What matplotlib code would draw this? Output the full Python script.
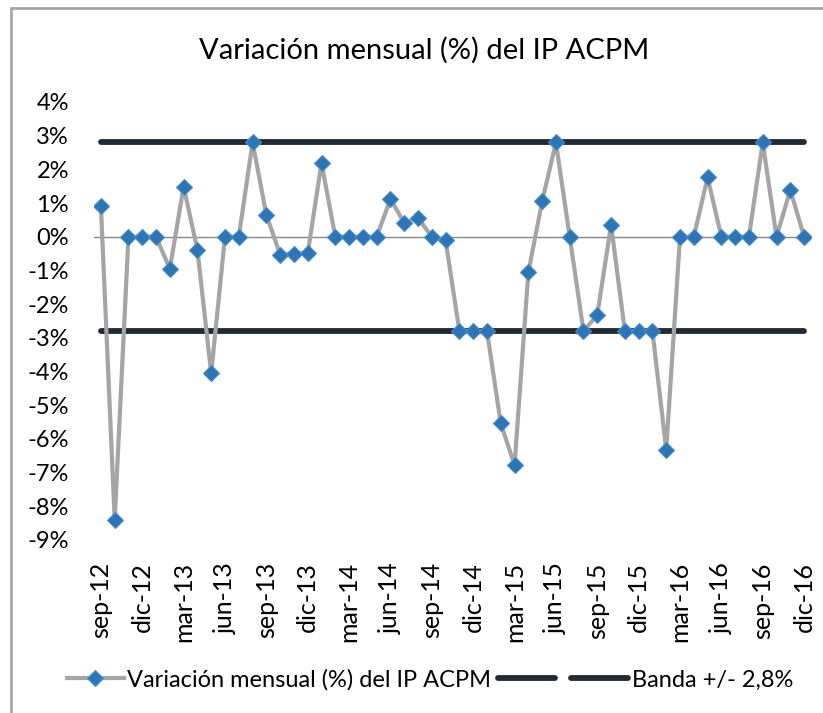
import matplotlib.pyplot as plt
from matplotlib.patches import Rectangle

# datos: variación mensual (%) del IP ACPM, sep-12 a dic-16
meses = ['ene', 'feb', 'mar', 'abr', 'may', 'jun', 'jul', 'ago', 'sep', 'oct', 'nov', 'dic']
fechas = [f"{meses[(8 + i) % 12]}-{12 + (8 + i) // 12}" for i in range(52)]
variacion = [0.92, -8.40, 0.0, 0.0, 0.0, -0.95, 1.49, -0.39, -4.05, 0.0,
             0.0, 2.80, 0.65, -0.53, -0.50, -0.49, 2.19, 0.0, 0.0, 0.0,
             0.0, 1.12, 0.41, 0.56, 0.0, -0.11, -2.80, -2.80, -2.80, -5.54,
             -6.78, -1.06, 1.05, 2.80, 0.0, -2.80, -2.32, 0.35, -2.80, -2.80,
             -2.80, -6.32, 0.0, 0.0, 1.76, 0.0, 0.0, 0.0, 2.80, 0.0,
             1.39, 0.0]
banda = 2.8
y_ticks = list(range(-9, 5))

plt.rcParams['font.family'] = ['Lato', 'DejaVu Sans']

fig = plt.figure(figsize=(8.23, 7.13), dpi=100)
ax = fig.add_axes([94 / 823, 1 - 540 / 713, (811 - 94) / 823, (540 - 102) / 713])

x = list(range(len(fechas)))
ax.axhline(0, color='#868686', lw=1.0, zorder=1)
ax.plot(x, variacion, color='#A5A5A5', lw=3.0, marker='D', ms=8,
        mfc='#2E75B6', mec='#4A8CCB', mew=0.8, zorder=3,
        label='Variación mensual (%) del IP ACPM')
ax.plot(x, [banda] * len(x), color='#222A35', lw=4.2, solid_capstyle='round',
        zorder=2, label=' ')
ax.plot(x, [-banda] * len(x), color='#222A35', lw=4.2, solid_capstyle='round',
        zorder=2, label='Banda +/- 2,8%')

ax.set_xlim(-0.5, len(x) - 0.5)
ax.set_ylim(-9, 4)
ax.set_yticks(y_ticks)
ax.set_yticklabels([f"{v}%" for v in y_ticks], fontsize=17)
ax.set_xticks(x[::3])
ax.set_xticklabels(fechas[::3], rotation=90, fontsize=18)
ax.tick_params(axis='y', length=0, pad=18)
ax.tick_params(axis='x', length=0, pad=16)
for s in ax.spines.values():
    s.set_visible(False)

fig.text(424 / 823, 1 - 50 / 713, 'Variación mensual (%) del IP ACPM',
         ha='center', va='center', fontsize=21)

fig.legend(loc='center', bbox_to_anchor=(430 / 823, 1 - 680 / 713), ncol=3,
           frameon=False, fontsize=17, handlelength=2.4, handletextpad=0.15,
           columnspacing=0.3)

fig.patches.append(Rectangle((11 / 823, -0.1), 1.2, 1 - 8 / 713 + 0.1,
                             transform=fig.transFigure, fill=False,
                             edgecolor='#A6A6A6', lw=2))

fig.savefig('out.png', dpi=100)
